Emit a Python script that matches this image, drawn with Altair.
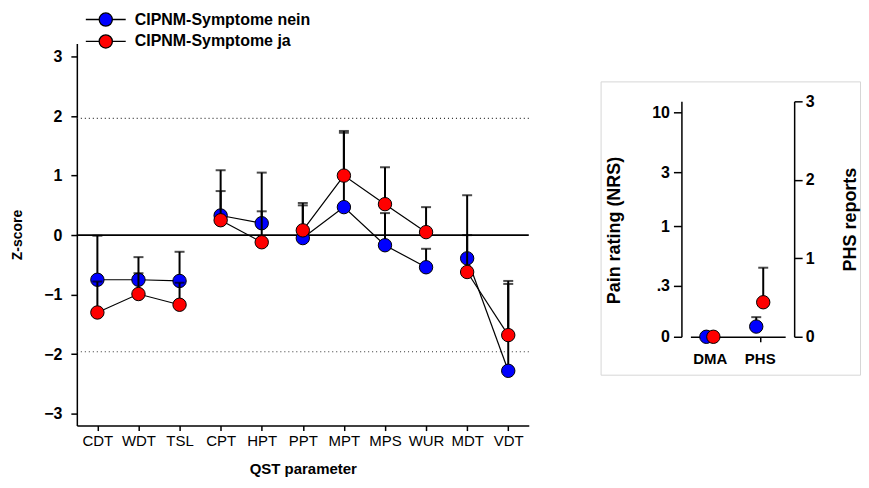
import math
import altair as alt
import pandas as pd

# ---------------- data ----------------
params = ["CDT", "WDT", "TSL", "CPT", "HPT", "PPT", "MPT", "MPS", "WUR", "MDT", "VDT"]
param_group = [0, 0, 0, 1, 1, 2, 2, 2, 2, 3, 3]   # connected segments
groups = ["CIPNM-Symptome nein", "CIPNM-Symptome ja"]
colors = ["#0000ff", "#ff0000"]

nein_mean = [-0.75, -0.75, -0.77, 0.33, 0.20, -0.05, 0.47, -0.17, -0.54, -0.39, -2.28]
nein_upper = [-0.01, -0.37, -0.28, 0.74, 1.05, 0.50, 1.72, 0.37, -0.23, 0.67, -0.82]
ja_mean = [-1.30, -0.99, -1.17, 0.25, -0.12, 0.08, 1.00, 0.52, 0.05, -0.62, -1.68]
ja_upper = [-0.78, -0.64, -0.80, 1.09, 0.40, 0.54, 1.75, 1.14, 0.47, 0.00, -0.77]

z_ticks = [-3, -2, -1, 0, 1, 2, 3]
z_limits = [-1.96, 1.96]
z_zero = [0]

side_cats = ["DMA", "PHS"]
dma_pain = [0.0, 0.0]          # nein, ja  (pain rating NRS)
phs_reports = [0.13, 0.44]     # nein, ja
phs_upper = [0.25, 0.88]       # nein, ja
pain_ticks = [0, 0.3, 1, 3, 10]
phs_ticks = [0, 1, 2, 3]

# ---------------- tables ----------------
rows = []
for g, means, ups in [(groups[0], nein_mean, nein_upper), (groups[1], ja_mean, ja_upper)]:
    for i, (p, s, m, u) in enumerate(zip(params, param_group, means, ups)):
        rows.append({"grp": g, "idx": i, "seg": s, "param": p, "mean": m, "upper": u})
df_z = pd.DataFrame(rows)
df_lim = pd.DataFrame({"v": z_limits})
df_zero = pd.DataFrame({"v": z_zero})

df_pain = pd.DataFrame({"grp": groups, "idx": [0, 0], "cat": [side_cats[0]] * 2, "pain": dma_pain})
df_phs = pd.DataFrame({"grp": groups, "idx": [1, 1], "cat": [side_cats[1]] * 2,
                       "phs": phs_reports, "phs_up": phs_upper})

FONT = "Liberation Sans"
ZERO_POS = -0.97
pain_pos_ticks = [math.log10(v) if v > 0 else ZERO_POS for v in pain_ticks]

# ---------------- left chart ----------------
fill_scale = alt.Scale(domain=groups, range=colors)
legend_path = "M-2,0L-0.66,0M0.66,0L2,0M0.66,0A0.66,0.66,0,1,1,-0.66,0A0.66,0.66,0,1,1,0.66,0Z"
legend = alt.Legend(title=None, orient="none", legendX=18, legendY=-35,
                    symbolType=legend_path, symbolSize=400,
                    symbolStrokeColor="black", symbolStrokeWidth=1.3, symbolOpacity=1,
                    labelFont=FONT, labelFontWeight="bold", labelFontSize=16, labelLimit=400,
                    labelColor="black", labelOffset=18, rowPadding=1)
fill_enc = alt.Fill("grp:N", scale=fill_scale, legend=legend)

xs = alt.Scale(type="point", domain=params, padding=0.5)
xax = alt.Axis(labelAngle=0, labelFontSize=15, labelPadding=3, tickSize=5,
               titleFontSize=15, titleFontWeight="bold", titlePadding=13)
X = alt.X("param:N", scale=xs, axis=xax, title="QST parameter")

ys = alt.Scale(domain=[-3.2, 3.22], nice=False, zero=False)
yax = alt.Axis(values=z_ticks, format="d", labelFontWeight="bold", labelFontSize=16,
               labelPadding=9, tickSize=6, titleFontSize=14, titleFontWeight="bold",
               titlePadding=19)

def Yf(field):
    return alt.Y(field, scale=ys, axis=yax, title="Z-score")

lim_rules = alt.Chart(df_lim).mark_rule(color="#333333", strokeWidth=1.2, strokeDash=[1, 3]).encode(
    y=Yf("v:Q"))
zero_rule = alt.Chart(df_zero).mark_rule(color="black", strokeWidth=1.6).encode(y=Yf("v:Q"))

layers = [lim_rules, zero_rule]
for g in groups:
    src = alt.Chart(df_z).transform_filter(alt.datum.grp == g)
    layers.append(src.mark_rule(color="black", strokeWidth=2).encode(
        x=X, y=Yf("mean:Q"), y2="upper:Q"))
    layers.append(src.mark_tick(color="black", thickness=2, size=10, orient="horizontal").encode(
        x=X, y=Yf("upper:Q")))
    layers.append(src.mark_line(color="black", strokeWidth=1.2).encode(
        x=X, y=Yf("mean:Q"), detail="seg:N", order="idx:Q"))
    layers.append(src.mark_point(shape="circle", filled=True, size=180, stroke="black",
                                 strokeWidth=1, opacity=1).encode(
        x=X, y=Yf("mean:Q"), fill=fill_enc))

left = alt.layer(*layers).properties(width=453, height=383)

# ---------------- right panel ----------------
BOX_W = 260
dodge = "datum.idx + (datum.grp == '%s' ? 0.07 : -0.07)" % groups[1]
xr = alt.X("xpos:Q",
           scale=alt.Scale(domain=[-0.39, 1.51], range=[90, 185], nice=False, zero=False),
           axis=alt.Axis(values=[0, 1], labelExpr="datum.value < 0.5 ? 'DMA' : 'PHS'",
                         offset=-38, tickSize=5, labelPadding=10, labelFontSize=15,
                         labelFontWeight="bold", labelFlush=False),
           title=None)
side_fill = alt.Fill("grp:N", scale=fill_scale, legend=None)

pain_label_expr = ("datum.value < -0.75 ? '0' : datum.value < -0.25 ? '.3' : "
                   "datum.value < 0.25 ? '1' : datum.value < 0.75 ? '3' : '10'")
y_pain = alt.Y("ppos:Q",
               scale=alt.Scale(domain=[ZERO_POS, 1.1], range=[256, 20], nice=False, zero=False),
               axis=alt.Axis(orient="left", offset=-81, values=pain_pos_ticks,
                             labelExpr=pain_label_expr, tickSize=8, labelPadding=4,
                             labelFontSize=16, labelFontWeight="bold", labelFlush=False,
                             titleFontSize=18, titleFontWeight="bold", titleX=-58, titleY=149),
               title="Pain rating (NRS)")
y_phs_axis = alt.Axis(orient="right", offset=-(BOX_W - 194), values=phs_ticks, tickSize=8,
                      labelPadding=3, labelFontSize=16, labelFontWeight="bold", labelFlush=False,
                      titleFontSize=18, titleFontWeight="bold", titleAngle=270,
                      titleBaseline="top", titleX=47)
y_phs_scale = alt.Scale(domain=[0, 3], range=[256, 20], nice=False, zero=False)

pain_pts = alt.Chart(df_pain).transform_calculate(
    ppos="datum.pain > 0 ? log(datum.pain) / LN10 : %s" % ZERO_POS, xpos=dodge
).mark_point(shape="circle", filled=True, size=180, stroke="black", strokeWidth=1, opacity=1).encode(
    x=xr, y=y_pain, fill=side_fill)

phs_base = alt.Chart(df_phs).transform_calculate(xpos=dodge)
phs_err = phs_base.mark_rule(color="black", strokeWidth=2).encode(
    x=xr, y=alt.Y("phs:Q", scale=y_phs_scale, axis=y_phs_axis, title="PHS reports"), y2="phs_up:Q")
phs_cap = phs_base.mark_tick(color="black", thickness=2, size=10, orient="horizontal").encode(
    x=xr, y=alt.Y("phs_up:Q", scale=y_phs_scale, axis=y_phs_axis, title="PHS reports"))
phs_pts = phs_base.mark_point(shape="circle", filled=True, size=180, stroke="black",
                              strokeWidth=1, opacity=1).encode(
    x=xr, y=alt.Y("phs:Q", scale=y_phs_scale, axis=y_phs_axis, title="PHS reports"), fill=side_fill)

phs_layer = alt.layer(phs_err, phs_cap, phs_pts)
right = alt.layer(pain_pts, phs_layer).resolve_scale(y="independent").properties(
    width=BOX_W, height=294, view=alt.ViewBackground(stroke="#d6d6d6", strokeWidth=1))

spacer = alt.Chart(pd.DataFrame({"s": [0]})).mark_point(opacity=0).encode(
    x=alt.X("s:Q", axis=None), y=alt.Y("s:Q", axis=None)
).properties(width=BOX_W, height=27)

right_col = alt.vconcat(spacer, right, spacing=10)

chart = alt.hconcat(left, right_col, spacing=70).resolve_scale(fill="independent").resolve_legend(
    fill="independent"
).properties(
    padding={"left": 2, "top": 0, "right": 0, "bottom": 0}
).configure_view(strokeWidth=0).configure_axis(
    labelFont=FONT, titleFont=FONT, labelColor="black", titleColor="black",
    domainColor="black", tickColor="black", domainWidth=1.5, tickWidth=1.5, grid=False
)

chart.save("out.html", embed_options={"renderer": "svg", "actions": False})
